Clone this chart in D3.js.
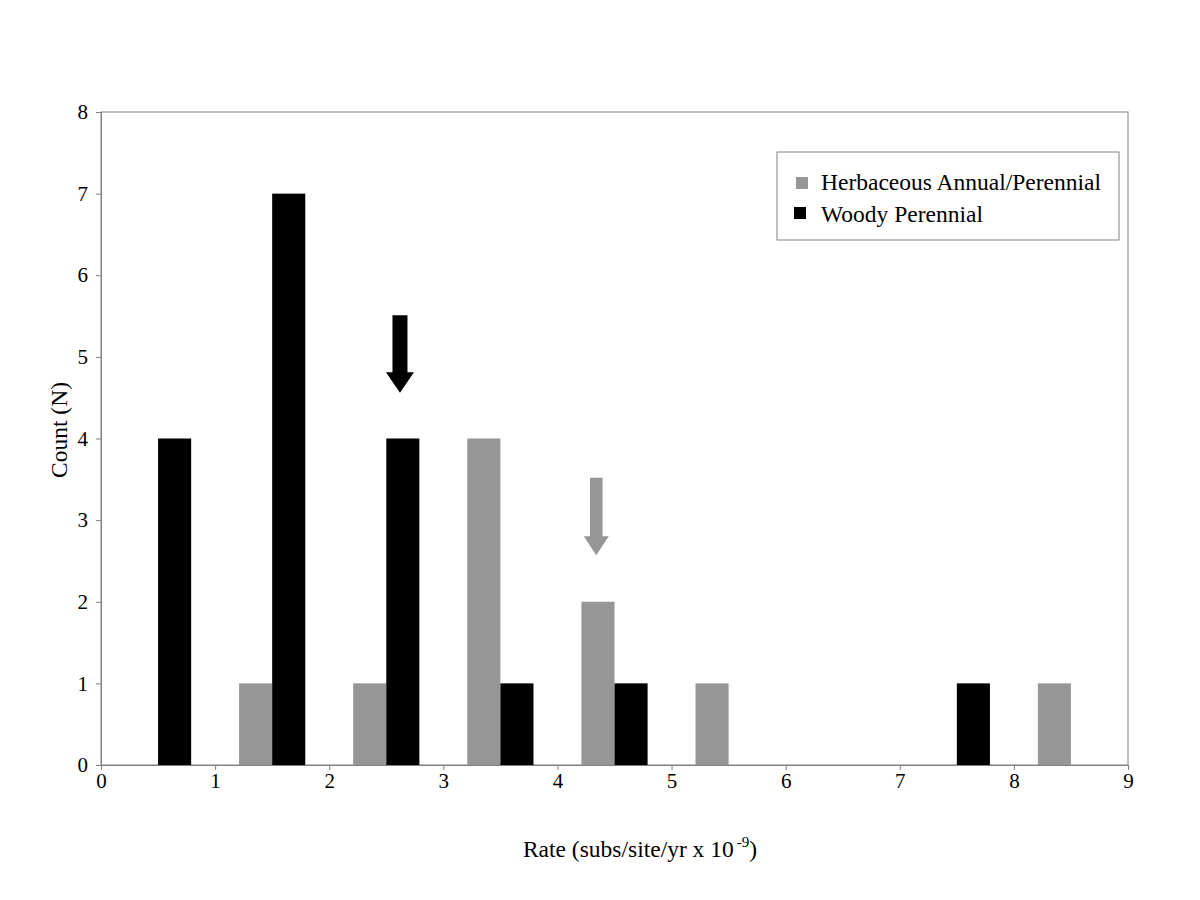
<!DOCTYPE html>
<html>
<head>
<meta charset="utf-8">
<script src="https://cdn.jsdelivr.net/npm/d3@7"></script>
<style>
  body { margin: 0; background: #fff; }
  svg text { font-family: "Liberation Serif", "Times New Roman", serif; fill: #000; }
</style>
</head>
<body>
<svg id="svg" width="1200" height="900"></svg>
<script>
// bins are 1 unit wide, starting at 0
const binStarts = [0, 1, 2, 3, 4, 5, 6, 7, 8];
const herbaceous = [0, 1, 1, 4, 2, 1, 0, 0, 1];
const woody = [4, 7, 4, 1, 1, 0, 0, 1, 0];
const seriesNames = ["Herbaceous Annual/Perennial", "Woody Perennial"];
const seriesColors = ["#969696", "#000000"];
const xTicks = [0, 1, 2, 3, 4, 5, 6, 7, 8, 9];
const yTicks = [0, 1, 2, 3, 4, 5, 6, 7, 8];
// mean markers: x position, arrow top, arrow tip (in data units)
const arrowX = [4.34, 2.62];
const arrowTop = [3.52, 5.51];
const arrowTip = [2.57, 4.56];

const svg = d3.select("#svg");
const m = { left: 101, right: 1128, top: 112, bottom: 765 };

const x = d3.scaleLinear().domain([0, 9]).range([m.left, m.right]);
const y = d3.scaleLinear().domain([0, 8]).range([m.bottom, m.top]);

const axisCol = "#808080";

// plot frame
svg.append("rect")
  .attr("x", m.left).attr("y", m.top)
  .attr("width", m.right - m.left).attr("height", m.bottom - m.top)
  .attr("fill", "none").attr("stroke", axisCol).attr("stroke-width", 1);

// bars: gray on the left half of the bin, black on the right
const barW = 0.29;
const offsets = [0.5 - barW, 0.5];
[herbaceous, woody].forEach((vals, s) => {
  svg.append("g").selectAll("rect")
    .data(vals.map((v, i) => ({ x0: binStarts[i] + offsets[s], v })).filter(d => d.v > 0))
    .enter().append("rect")
    .attr("x", d => x(d.x0))
    .attr("width", d => x(d.x0 + barW) - x(d.x0))
    .attr("y", d => y(d.v))
    .attr("height", d => y(0) - y(d.v))
    .attr("fill", seriesColors[s]);
});

// axes
const xAxis = svg.append("g")
  .attr("transform", `translate(0,${m.bottom})`)
  .call(d3.axisBottom(x).tickValues(xTicks).tickSize(5).tickPadding(3).tickFormat(d3.format("d")));
const yAxis = svg.append("g")
  .attr("transform", `translate(${m.left},0)`)
  .call(d3.axisLeft(y).tickValues(yTicks).tickSize(5).tickPadding(8).tickFormat(d3.format("d")));
[xAxis, yAxis].forEach(a => {
  a.select(".domain").attr("stroke", axisCol);
  a.selectAll(".tick line").attr("stroke", axisCol);
  a.selectAll("text").style("font-family", "Liberation Serif").attr("font-size", 21).attr("fill", "#000");
});

// arrows
arrowX.forEach((ax, i) => {
  const cx = x(ax);
  const top = y(arrowTop[i]), tip = y(arrowTip[i]);
  const big = i === 1;
  const shaftHalf = big ? 7.5 : 6.3;
  const headHalf = big ? 14 : 12.5;
  const headLen = big ? 20.5 : 19;
  const hs = tip - headLen;
  svg.append("path")
    .attr("d", `M${cx - shaftHalf},${top} L${cx + shaftHalf},${top} L${cx + shaftHalf},${hs} L${cx + headHalf},${hs} L${cx},${tip} L${cx - headHalf},${hs} L${cx - shaftHalf},${hs} Z`)
    .attr("fill", seriesColors[i]);
});

// legend
const lg = svg.append("g").attr("transform", "translate(777,152)");
lg.append("rect").attr("width", 342).attr("height", 88)
  .attr("fill", "#fff").attr("stroke", axisCol);
seriesNames.forEach((name, i) => {
  const row = lg.append("g").attr("transform", `translate(0,${i * 32})`);
  row.append("rect").attr("x", i ? 17 : 19).attr("y", i ? 23 : 25).attr("width", 12).attr("height", 12)
    .attr("fill", seriesColors[i]);
  row.append("text").attr("x", 44).attr("y", 38).attr("font-size", 23.5).text(name);
});

// axis titles
svg.append("text")
  .attr("transform", "translate(67,430) rotate(-90)")
  .attr("text-anchor", "middle").attr("font-size", 23.5)
  .text("Count (N)");

const xt = svg.append("text")
  .attr("x", 640).attr("y", 857)
  .attr("text-anchor", "middle").attr("font-size", 23.5);
xt.append("tspan").text("Rate (subs/site/yr x 10");
xt.append("tspan").attr("dx", 3).attr("dy", -10).attr("font-size", 15).text("-9");
xt.append("tspan").attr("dy", 10).text(")");
</script>
</body>
</html>
